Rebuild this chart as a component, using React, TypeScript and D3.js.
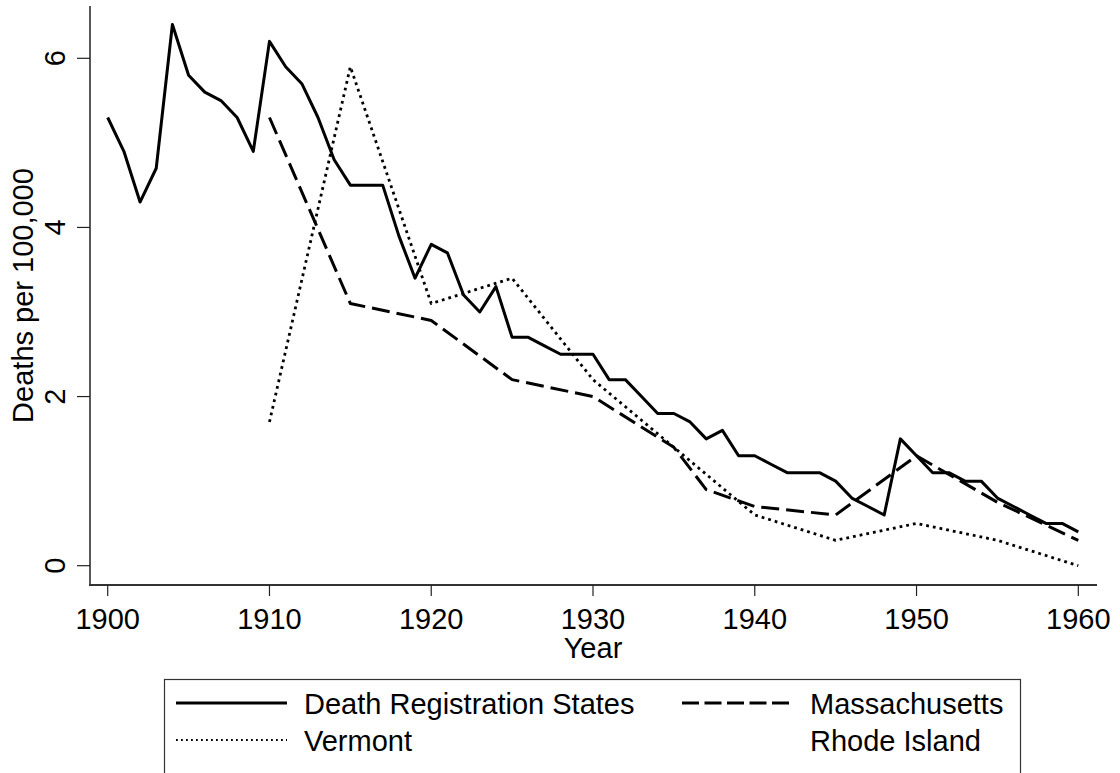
import React, {useEffect, useRef} from 'react';
import * as d3 from 'd3';

// Death Registration States, yearly
const drsYears = [1900, 1901, 1902, 1903, 1904, 1905, 1906, 1907, 1908, 1909,
    1910, 1911, 1912, 1913, 1914, 1915, 1916, 1917, 1918, 1919,
    1920, 1921, 1922, 1923, 1924, 1925, 1926, 1927, 1928, 1929,
    1930, 1931, 1932, 1933, 1934, 1935, 1936, 1937, 1938, 1939,
    1940, 1941, 1942, 1943, 1944, 1945, 1946, 1947, 1948, 1949,
    1950, 1951, 1952, 1953, 1954, 1955, 1956, 1957, 1958, 1959, 1960];
const drsValues = [5.3, 4.9, 4.3, 4.7, 6.4, 5.8, 5.6, 5.5, 5.3, 4.9,
    6.2, 5.9, 5.7, 5.3, 4.8, 4.5, 4.5, 4.5, 3.9, 3.4,
    3.8, 3.7, 3.2, 3.0, 3.3, 2.7, 2.7, 2.6, 2.5, 2.5,
    2.5, 2.2, 2.2, 2.0, 1.8, 1.8, 1.7, 1.5, 1.6, 1.3,
    1.3, 1.2, 1.1, 1.1, 1.1, 1.0, 0.8, 0.7, 0.6, 1.5,
    1.3, 1.1, 1.1, 1.0, 1.0, 0.8, 0.7, 0.6, 0.5, 0.5, 0.4];

const maYears = [1910, 1915, 1920, 1925, 1930, 1935, 1937, 1940, 1945, 1950, 1955, 1960];
const maValues = [5.3, 3.1, 2.9, 2.2, 2.0, 1.4, 0.9, 0.7, 0.6, 1.3, 0.75, 0.3];

const vtYears = [1910, 1915, 1920, 1925, 1930, 1935, 1940, 1945, 1950, 1955, 1960];
const vtValues = [1.7, 5.9, 3.1, 3.4, 2.2, 1.4, 0.6, 0.3, 0.5, 0.3, 0.0];

// Rhode Island has no plotted values
const riYears: number[] = [];
const riValues: number[] = [];

const xTicks = [1900, 1910, 1920, 1930, 1940, 1950, 1960];
const yTicks = [0, 2, 4, 6];

const FONT = 'Liberation Sans, Arial, sans-serif';
const FS = 29;

export default function App() {
    const ref = useRef<SVGSVGElement>(null);

    useEffect(() => {
        const svg = d3.select(ref.current);
        svg.selectAll('*').remove();

        const x = d3.scaleLinear().domain([1900, 1960]).range([107.7, 1078.3]);
        const y = d3.scaleLinear().domain([0, 6]).range([565.7, 58.3]);

        const line = d3.line<[number, number]>()
            .x(d => x(d[0]))
            .y(d => y(d[1]));

        const series = [
            {years: drsYears, values: drsValues, dash: null, width: 3},
            {years: maYears, values: maValues, dash: '18,7', width: 3},
            {years: vtYears, values: vtValues, dash: '2.8,4', width: 2.8},
            {years: riYears, values: riValues, dash: null, width: 3},
        ];

        series.forEach(s => {
            if (!s.years.length) return;
            const pts = s.years.map((yr, i) => [yr, s.values[i]] as [number, number]);
            svg.append('path')
                .datum(pts)
                .attr('d', line)
                .attr('fill', 'none')
                .attr('stroke', '#000')
                .attr('stroke-width', s.width)
                .attr('stroke-linejoin', 'round')
                .attr('stroke-dasharray', s.dash);
        });

        // axes
        svg.append('line')
            .attr('x1', 90).attr('x2', 90).attr('y1', 6).attr('y2', 585)
            .attr('stroke', '#222').attr('stroke-width', 1.5);
        svg.append('line')
            .attr('x1', 89).attr('x2', 1097).attr('y1', 585).attr('y2', 585)
            .attr('stroke', '#333').attr('stroke-width', 2);

        const yt = svg.append('g');
        yTicks.forEach(t => {
            yt.append('line')
                .attr('x1', 77).attr('x2', 90).attr('y1', y(t)).attr('y2', y(t))
                .attr('stroke', '#222').attr('stroke-width', 1.2);
            yt.append('text')
                .attr('transform', `translate(65,${y(t)}) rotate(-90)`)
                .attr('text-anchor', 'middle')
                .attr('font-family', FONT).attr('font-size', FS)
                .text(t);
        });

        const xt = svg.append('g');
        xTicks.forEach(t => {
            xt.append('line')
                .attr('x1', x(t)).attr('x2', x(t)).attr('y1', 585).attr('y2', 596)
                .attr('stroke', '#222').attr('stroke-width', 1.2);
            xt.append('text')
                .attr('x', x(t)).attr('y', 629)
                .attr('text-anchor', 'middle')
                .attr('font-family', FONT).attr('font-size', FS)
                .text(t);
        });

        svg.append('text')
            .attr('x', 593).attr('y', 658)
            .attr('text-anchor', 'middle')
            .attr('font-family', FONT).attr('font-size', FS)
            .text('Year');
        svg.append('text')
            .attr('transform', 'translate(33,295.5) rotate(-90)')
            .attr('text-anchor', 'middle')
            .attr('font-family', FONT).attr('font-size', FS)
            .text('Deaths per 100,000');

        // legend
        svg.append('rect')
            .attr('x', 164.5).attr('y', 679.5).attr('width', 856).attr('height', 120)
            .attr('fill', 'none').attr('stroke', '#333').attr('stroke-width', 1.2);

        const items = [
            {label: 'Death Registration States', x: 176, y: 703, dash: null, width: 3, show: true},
            {label: 'Massachusetts', x: 682, y: 703, dash: '17,5.5', width: 3, show: true},
            {label: 'Vermont', x: 176, y: 740, dash: '1.8,3.2', width: 1.8, show: true},
            {label: 'Rhode Island', x: 682, y: 740, dash: null, width: 3, show: false},
        ];
        items.forEach(it => {
            if (it.show) {
                svg.append('line')
                    .attr('x1', it.x).attr('x2', it.x + 111).attr('y1', it.y).attr('y2', it.y)
                    .attr('stroke', '#000').attr('stroke-width', it.width)
                    .attr('stroke-dasharray', it.dash);
            }
            svg.append('text')
                .attr('x', it.x + 128).attr('y', it.y + 10.5)
                .attr('font-family', FONT).attr('font-size', FS)
                .text(it.label);
        });
    }, []);

    return (
        <svg ref={ref} width={1120} height={773}
             style={{position: 'absolute', left: 0, top: 0, background: '#fff'}}/>
    );
}
